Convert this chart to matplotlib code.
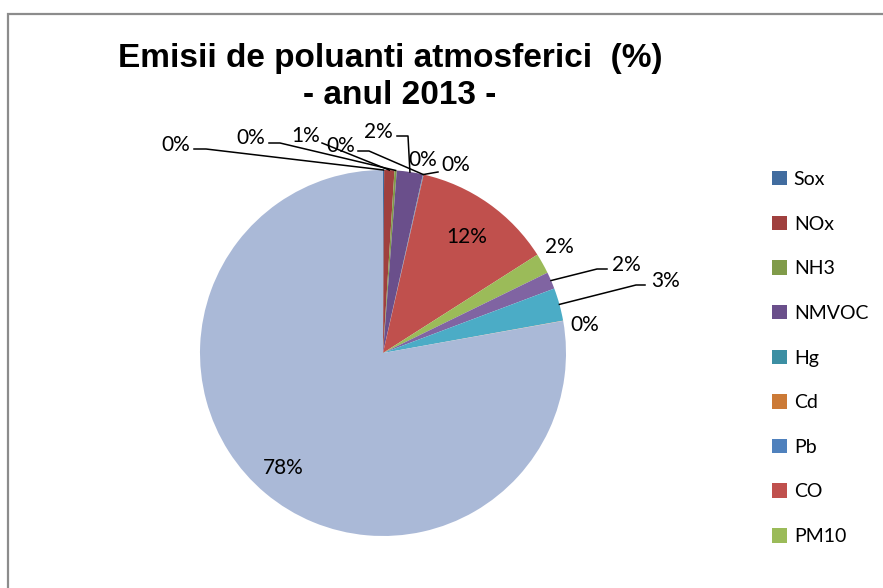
import matplotlib
matplotlib.use('Agg')
import matplotlib.pyplot as plt
import matplotlib.patches as mpatches
import numpy as np

# emission shares, 2013 (%)
pollutants = ['Sox', 'NOx', 'NH3', 'NMVOC', 'Hg', 'Cd', 'Pb', 'CO', 'PM10',
              'PM2.5', 'TSP', 'BC', 'CO2']
shares = [0.1, 0.9, 0.2, 2.3, 0.01, 0.01, 0.05, 12.4, 1.8, 1.5, 2.9, 0.02, 77.8]
colors = ['#416C9F', '#A0403E', '#809B49', '#6A4F8B', '#3C8FA3', '#CC7A36',
          '#4F81BD', '#C0504D', '#9BBB59', '#8064A2', '#4BACC6', '#F79646',
          '#AAB9D7']
n_legend = 9  # the legend box only has room for the first 9 entries

W, H = 883, 588
cx, cy, R = 383, 353, 183  # pie centre and radius in pixels

# label layout in pixels: text centre, optional leader elbow points
label_layout = [
    ((176, 145), [(194, 149), (206, 149)]),
    ((306, 136), [(322, 143)]),
    ((251, 138), [(269, 143), (280, 143)]),
    ((378, 132), [(397, 136), (408, 136)]),
    ((341, 146), [(358, 151), (369, 151)]),
    ((423, 160), []),
    ((456, 165), [(438, 172)]),
    ((467, 237), None),
    ((559, 247), []),
    ((626, 265), [(607, 269), (597, 269)]),
    ((666, 281), [(645, 285), (636, 285)]),
    ((585, 325), []),
    ((283, 468), None),
]


def px2data(p):
    return ((p[0] - cx) / R, (cy - p[1]) / R)


fig = plt.figure(figsize=(W / 100, H / 100), dpi=100)
ax = fig.add_axes([(cx - R) / W, (H - cy - R) / H, 2 * R / W, 2 * R / H])
wedges, _ = ax.pie(shares, colors=colors, startangle=90, counterclock=False,
                   radius=1, wedgeprops=dict(linewidth=0))
ax.set_xlim(-1, 1)
ax.set_ylim(-1, 1)
ax.set_aspect('equal')
ax.axis('off')

label_font = 'Lato'
for w, val, (txt_px, leader) in zip(wedges, shares, label_layout):
    tx, ty = px2data(txt_px)
    ax.text(tx, ty, '%d%%' % round(val), ha='center', va='center',
            fontsize=15, family=label_font, clip_on=False, zorder=5)
    if leader:
        mid = np.deg2rad((w.theta1 + w.theta2) / 2)
        pts = [px2data(p) for p in leader] + [(np.cos(mid), np.sin(mid))]
        xs, ys = zip(*pts)
        ax.plot(xs, ys, color='black', lw=1.1, clip_on=False, zorder=4)

fig.text(390 / W, 1 - 58 / H, 'Emisii de poluanti atmosferici  (%)',
         ha='center', va='center', fontsize=24, fontweight='bold',
         family='Liberation Sans')
fig.text(400 / W, 1 - 95 / H, '- anul 2013 -', ha='center', va='center',
         fontsize=24, fontweight='bold', family='Liberation Sans')

fig.legend(wedges[:n_legend], pollutants[:n_legend], loc='upper left',
           bbox_to_anchor=(772 / W, 1 - 171 / H), frameon=False,
           prop=dict(family=label_font, size=14), handlelength=0.77,
           handleheight=0.77, handletextpad=0.35, labelspacing=1.42,
           borderpad=0, borderaxespad=0)

# chart frame (right and bottom edges run off the picture)
fig.patches.append(mpatches.Rectangle((8 / W, -0.05), 1.1, 1 - 14 / H + 0.05,
                                      transform=fig.transFigure, fill=False,
                                      edgecolor='#8C8C8C', lw=1.6))

fig.savefig('out.png', dpi=100)
